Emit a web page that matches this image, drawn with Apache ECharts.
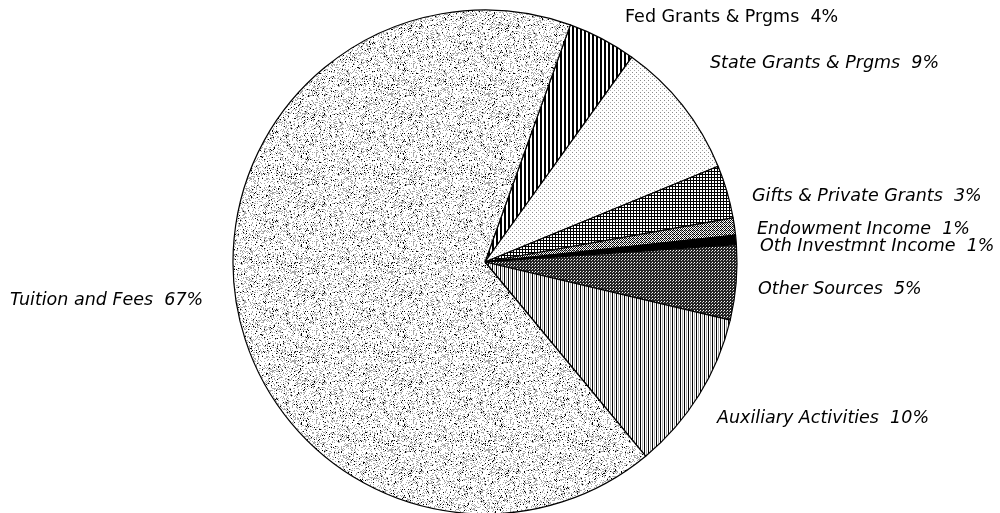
<!DOCTYPE html>
<html>
<head>
<meta charset="utf-8">
<script src="https://cdn.jsdelivr.net/npm/echarts@6/dist/echarts.min.js"></script>
<style>
html,body{margin:0;padding:0;background:#fff;}
#chart{width:1000px;height:513px;}
</style>
</head>
<body>
<div id="chart"></div>
<script>
// Data (clockwise from Fed Grants)
const categories = ['Fed Grants & Prgms', 'State Grants & Prgms', 'Gifts & Private Grants', 'Endowment Income', 'Oth Investmnt Income', 'Other Sources', 'Auxiliary Activities', 'Tuition and Fees'];
const values = [4.4, 8.9, 3.4, 1.1, 0.6, 4.8, 10.3, 66.5];
const percentLabels = ['4%', '9%', '3%', '1%', '1%', '5%', '10%', '67%'];

function tile(w, h, draw) {
  const c = document.createElement('canvas');
  c.width = w; c.height = h;
  const ctx = c.getContext('2d');
  draw(ctx, w, h);
  return { image: c, repeat: 'repeat' };
}
function px(ctx, x, y, col) { ctx.fillStyle = col; ctx.fillRect(x, y, 1, 1); }
function hash(x, y) { let n = x * 374761393 + y * 668265263; n = (n ^ (n >>> 13)) * 1274126177; return ((n ^ (n >>> 16)) >>> 0) / 4294967295; }

const patterns = [
  // Fed: bold vertical stripes
  tile(4, 4, (ctx) => { ctx.fillStyle = '#fff'; ctx.fillRect(0,0,4,4); ctx.fillStyle = '#000'; ctx.fillRect(0,0,2,4); }),
  // State: sparse light dots
  tile(4, 4, (ctx) => { ctx.fillStyle = '#fff'; ctx.fillRect(0,0,4,4); px(ctx,0,0,'#888'); px(ctx,2,2,'#aaa'); }),
  // Gifts: crosshatch
  tile(3, 3, (ctx) => { ctx.fillStyle = '#fff'; ctx.fillRect(0,0,3,3); ctx.fillStyle = '#000'; ctx.fillRect(0,0,3,1); ctx.fillRect(0,0,1,3); }),
  // Endowment: light diamond
  tile(4, 4, (ctx) => { ctx.fillStyle = '#fff'; ctx.fillRect(0,0,4,4); px(ctx,0,0,'#000'); px(ctx,2,0,'#000'); px(ctx,1,1,'#000'); px(ctx,3,1,'#555'); px(ctx,0,2,'#000'); px(ctx,2,2,'#000'); px(ctx,1,3,'#555'); px(ctx,3,3,'#000'); px(ctx,1,2,'#888'); }),
  // Oth investment: solid black
  '#000',
  // Other sources: dark checker
  tile(3, 3, (ctx) => { ctx.fillStyle = '#222'; ctx.fillRect(0,0,3,3); px(ctx,1,1,'#fff'); px(ctx,0,2,'#bbb'); }),
  // Auxiliary: thin vertical lines
  tile(4, 4, (ctx) => { ctx.fillStyle = '#fff'; ctx.fillRect(0,0,4,4); ctx.fillStyle = '#000'; ctx.fillRect(0,0,1,4); ctx.fillStyle = '#aaa'; ctx.fillRect(2,0,1,4); }),
  // Tuition: fine sparse gray stipple
  tile(97, 89, (ctx, w, h) => {
    ctx.fillStyle = '#fff'; ctx.fillRect(0,0,w,h);
    for (let y = 0; y < h; y++) for (let x = 0; x < w; x++) {
      const r = hash(x, y);
      if (r < 0.045) px(ctx, x, y, '#000');
      else if (r < 0.29) px(ctx, x, y, '#aaaaaa');
    }
  })
];

// Label placement (left edge, vertical middle, italic) for each slice
const labelSpots = [[625,17,false],[710,63,true],[752,196,true],[757,229,true],[760,246,true],[758,289,true],[717,418,true],[10,300,true]];

const chart = echarts.init(document.getElementById('chart'), null, { renderer: 'canvas' });
chart.setOption({
  animation: false,
  backgroundColor: '#fff',
  series: [{
    type: 'pie',
    center: [485, 262],
    radius: 252,
    startAngle: 70.2,
    clockwise: true,
    avoidLabelOverlap: false,
    data: categories.map((name, i) => ({
      name: name,
      value: values[i],
      itemStyle: { color: patterns[i] },
      label: { fontStyle: labelSpots[i][2] ? 'italic' : 'normal' }
    })),
    itemStyle: { borderColor: '#000', borderWidth: 1.2 },
    label: {
      show: true,
      position: 'outside',
      formatter: (p) => p.name + '  ' + percentLabels[p.dataIndex],
      fontFamily: '"DejaVu Sans", sans-serif',
      fontSize: 17.5,
      color: '#000'
    },
    labelLine: { show: false },
    labelLayout: (params) => {
      const s = labelSpots[params.dataIndex];
      return { x: s[0], y: s[1], align: 'left', verticalAlign: 'middle' };
    },
    emphasis: { disabled: true }
  }]
});
</script>
</body>
</html>
